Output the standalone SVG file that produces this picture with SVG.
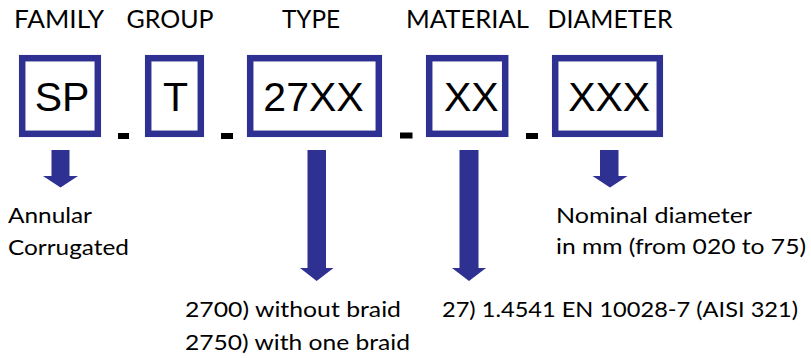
<svg xmlns="http://www.w3.org/2000/svg" width="811" height="358" viewBox="0 0 811 358">
<style>
.box{fill:#fff;stroke:#2E3192;stroke-width:6.5}
.code{font-family:"Liberation Sans",Arial,sans-serif;font-size:41px;fill:#000;text-anchor:middle}
.hdr{font-family:Lato,"Open Sans",sans-serif;font-size:25px;fill:#000;text-anchor:middle}
.txt{font-family:Lato,"Open Sans",sans-serif;font-size:22px;fill:#000}
.arr{fill:#2E3192}
.sep{fill:#000}
</style>
<rect width="811" height="358" fill="#fff"/>
<g id="family">
<text class="hdr" x="59" y="28" textLength="90" lengthAdjust="spacingAndGlyphs">FAMILY</text>
<rect class="box" x="22.2" y="58.2" width="75.6" height="75.6"/>
<text class="code" x="62" y="111">SP</text>
<text class="txt" x="8" y="223" textLength="84" lengthAdjust="spacingAndGlyphs">Annular</text>
<text class="txt" x="8" y="255" textLength="121" lengthAdjust="spacingAndGlyphs">Corrugated</text>
</g>
<g id="group">
<text class="hdr" x="170" y="28" textLength="87" lengthAdjust="spacingAndGlyphs">GROUP</text>
<rect class="box" x="148.2" y="58.2" width="52.6" height="75.6"/>
<text class="code" x="175.5" y="111">T</text>
</g>
<g id="type">
<text class="hdr" x="311" y="28" textLength="58" lengthAdjust="spacingAndGlyphs">TYPE</text>
<rect class="box" x="250.2" y="58.2" width="128.6" height="75.6"/>
<text class="code" x="313.5" y="111">27XX</text>
<text class="txt" x="185" y="317" textLength="216" lengthAdjust="spacingAndGlyphs">2700) without braid</text>
<text class="txt" x="185" y="350" textLength="225" lengthAdjust="spacingAndGlyphs">2750) with one braid</text>
</g>
<g id="material">
<text class="hdr" x="467.5" y="28" textLength="123" lengthAdjust="spacingAndGlyphs">MATERIAL</text>
<rect class="box" x="429.2" y="58.2" width="76" height="75.6"/>
<text class="code" x="471.3" y="111">XX</text>
<text class="txt" x="442" y="317" textLength="356" lengthAdjust="spacingAndGlyphs">27) 1.4541 EN 10028-7 (AISI 321)</text>
</g>
<g id="diameter">
<text class="hdr" x="610" y="28" textLength="125" lengthAdjust="spacingAndGlyphs">DIAMETER</text>
<rect class="box" x="555.2" y="58.2" width="104.6" height="75.6"/>
<text class="code" x="609.2" y="111">XXX</text>
<text class="txt" x="556" y="223" textLength="196" lengthAdjust="spacingAndGlyphs">Nominal diameter</text>
<text class="txt" x="556" y="254" textLength="250" lengthAdjust="spacingAndGlyphs">in mm (from 020 to 75)</text>
</g>
<g id="separators">
<rect class="sep" x="118" y="133" width="11" height="6"/>
<rect class="sep" x="221" y="133" width="12" height="6"/>
<rect class="sep" x="400" y="132.5" width="12.5" height="6"/>
<rect class="sep" x="526" y="133" width="12" height="6"/>
</g>
<g id="connectors">
<polygon class="arr" points="51.5,150 69.5,150 69.5,176 78,176 60.5,187.5 43,176 51.5,176"/>
<polygon class="arr" points="307.5,150 326,150 326,268 333.5,268 316.7,281 300,268 307.5,268"/>
<polygon class="arr" points="459.5,150 478.5,150 478.5,268 486,268 469,281 452,268 459.5,268"/>
<polygon class="arr" points="600,150 618.5,150 618.5,176 627.5,176 610,187.5 592.5,176 600,176"/>
</g>
</svg>
